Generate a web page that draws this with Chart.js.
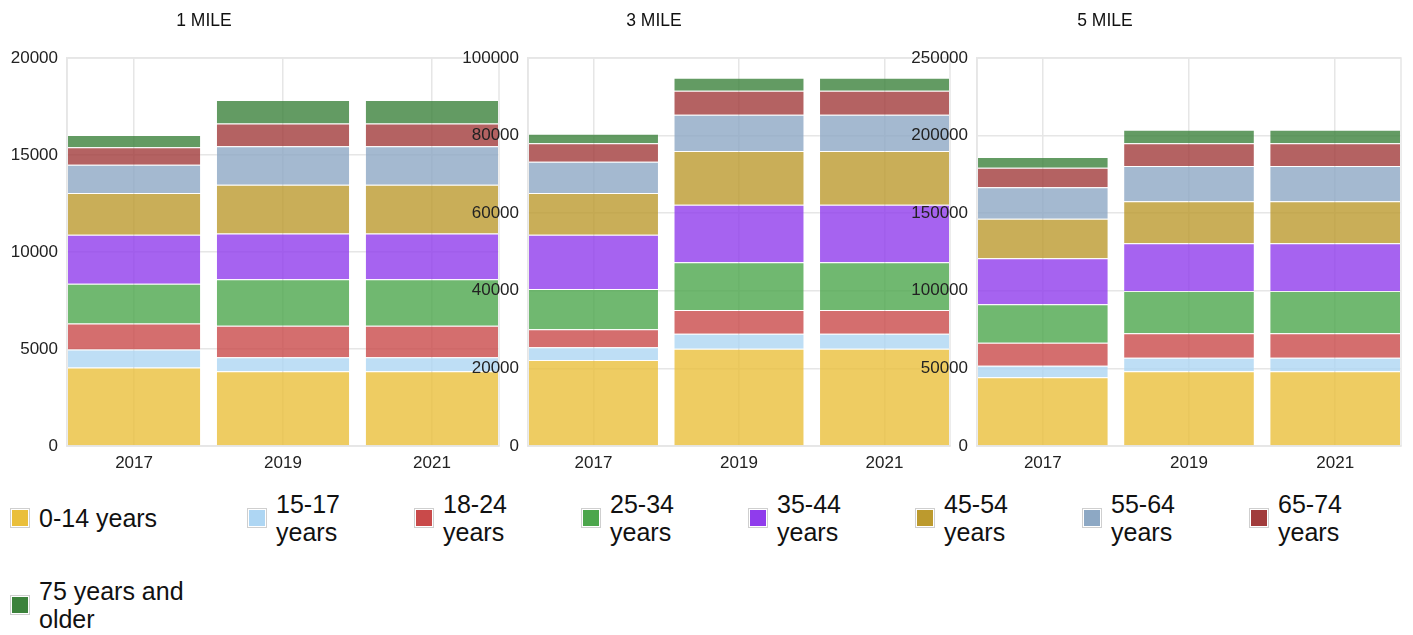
<!DOCTYPE html>
<html>
<head>
<meta charset="utf-8">
<script src="https://cdn.jsdelivr.net/npm/chart.js@4.4.1/dist/chart.umd.min.js"></script>
<style>
  body { margin: 0; background: #fff; font-family: "Liberation Sans", Arial, sans-serif; }
  #wrap { position: relative; width: 1413px; height: 635px; overflow: hidden; }
  .panel { position: absolute; top: 0; height: 480px; }
  .title { position: absolute; top: 10px; font-size: 17.5px; line-height: 20px; color: #111; transform: translateX(-50%); white-space: nowrap; }
  #legend { position: absolute; left: 10px; top: 490px; display: grid; grid-template-columns: 237px repeat(7, 167px); row-gap: 31px; }
  .item { display: flex; align-items: center; height: 56px; font-size: 25px; line-height: 28.5px; color: #111; }
  .swatch { width: 16px; height: 16px; border: 1px solid #cfcfcf; padding: 1px; background-clip: content-box; margin-right: 9px; flex: none; }
  .item span { max-width: 110px; }
  .item.first span { max-width: 155px; }
</style>
</head>
<body>
<div id="wrap">
  <div class="panel" style="left:0;width:500px"><canvas id="mile1"></canvas></div>
  <div class="panel" style="left:453px;width:498px"><canvas id="mile3"></canvas></div>
  <div class="panel" style="left:903px;width:499px"><canvas id="mile5"></canvas></div>
  <div class="title" style="left:204px">1 MILE</div>
  <div class="title" style="left:654px">3 MILE</div>
  <div class="title" style="left:1105px">5 MILE</div>
  <div id="legend"></div>
</div>
<script>
// ============================
// DATA
// ============================
const years = ['2017', '2019', '2021'];
const ageGroups = ['0-14 years', '15-17 years', '18-24 years', '25-34 years', '35-44 years',
                   '45-54 years', '55-64 years', '65-74 years', '75 years and older'];

// one row per age group, columns = years
const oneMile = [
    [4050, 3850, 3850],
    [930, 720, 720],
    [1340, 1630, 1630],
    [2045, 2390, 2390],
    [2525, 2370, 2370],
    [2150, 2510, 2510],
    [1460, 1975, 1975],
    [895, 1185, 1185],
    [635, 1200, 1200]
];
const threeMile = [
    [22170, 25090, 25090],
    [3260, 3860, 3860],
    [4640, 6100, 6100],
    [10400, 12290, 12290],
    [14000, 14860, 14860],
    [10740, 13830, 13830],
    [8070, 9360, 9360],
    [4730, 6190, 6190],
    [2490, 3350, 3350]
];
const fiveMile = [
    [44240, 48110, 48110],
    [7520, 8790, 8790],
    [14820, 15720, 15720],
    [24720, 27250, 27250],
    [29640, 30710, 30710],
    [25520, 27090, 27090],
    [20230, 22740, 22740],
    [12630, 14630, 14630],
    [6890, 8760, 8760]
];

// ============================
// STYLE
// ============================
const colors = [
    [234, 191, 59],
    [174, 214, 243],
    [201, 74, 74],
    [76, 166, 76],
    [144, 60, 236],
    [188, 154, 46],
    [141, 168, 196],
    [161, 59, 59],
    [60, 130, 60]
];
const gridColor = '#e6e6e6';
const textColor = '#222';

Chart.defaults.font.family = '"Liberation Sans", Arial, sans-serif';
Chart.defaults.font.size = 17;
Chart.defaults.color = textColor;

const areaBorder = {
    id: 'areaBorder',
    beforeDatasetsDraw(chart) {
        const { ctx, chartArea: a } = chart;
        ctx.save();
        ctx.strokeStyle = gridColor;
        ctx.lineWidth = 1.5;
        ctx.strokeRect(a.left, a.top, a.right - a.left, a.bottom - a.top);
        ctx.restore();
    }
};

function makeChart(id, rows, yMax, yStep, yWidth) {
    const datasets = rows.map((vals, i) => ({
        label: ageGroups[i],
        data: vals.map((v, j) => ({ x: j, y: v })),
        backgroundColor: `rgba(${colors[i].join(',')},0.8)`,
        borderColor: 'rgba(255,255,255,0.15)',
        borderWidth: 1,
        barPercentage: 0.9,
        categoryPercentage: 1
    }));

    return new Chart(document.getElementById(id), {
        type: 'bar',
        data: { datasets },
        plugins: [areaBorder],
        options: {
            responsive: true,
            maintainAspectRatio: false,
            animation: false,
            layout: { padding: { top: 58, right: 1, left: 0, bottom: 0 } },
            plugins: {
                legend: { display: false },
                tooltip: { enabled: false }
            },
            scales: {
                x: {
                    type: 'linear',
                    min: -0.45,
                    max: years.length - 0.55,
                    offset: false,
                    stacked: true,
                    afterBuildTicks: (axis) => { axis.ticks = years.map((_, i) => ({ value: i })); },
                    afterFit: (axis) => { axis.height = 34; },
                    ticks: {
                        autoSkip: false,
                        maxRotation: 0,
                        padding: 7,
                        callback: (v) => years[v]
                    },
                    grid: { color: gridColor, lineWidth: 1.5, drawTicks: false, offset: false },
                    border: { color: gridColor, width: 1.5 }
                },
                y: {
                    stacked: true,
                    min: 0,
                    max: yMax,
                    afterFit: (axis) => { axis.width = yWidth; },
                    ticks: { stepSize: yStep, padding: 9, callback: (v) => String(v) },
                    grid: { color: gridColor, lineWidth: 1.5, drawTicks: false },
                    border: { color: gridColor, width: 1.5 }
                }
            }
        }
    });
}

makeChart('mile1', oneMile, 20000, 5000, 67);
makeChart('mile3', threeMile, 100000, 20000, 75);
makeChart('mile5', fiveMile, 250000, 50000, 74);

// ============================
// HTML LEGEND
// ============================
const legend = document.getElementById('legend');
ageGroups.forEach((name, i) => {
    const item = document.createElement('div');
    item.className = 'item' + (i % 8 === 0 ? ' first' : '');
    const sw = document.createElement('div');
    sw.className = 'swatch';
    sw.style.backgroundColor = `rgb(${colors[i].join(',')})`;
    const label = document.createElement('span');
    label.textContent = name;
    item.appendChild(sw);
    item.appendChild(label);
    legend.appendChild(item);
});
</script>
</body>
</html>
